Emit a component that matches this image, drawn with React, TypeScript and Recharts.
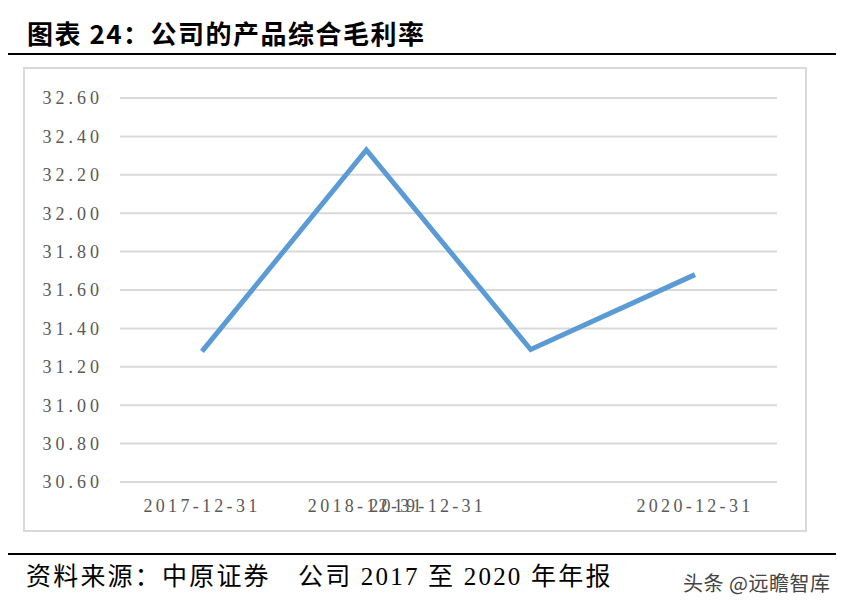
import React from "react";
import { CartesianGrid, Line, LineChart, XAxis, YAxis } from "recharts";

const periods = ["2017-12-31", "2018-12-31", "2019-12-31", "2020-12-31"];
const grossMargin = [31.28, 32.33, 31.29, 31.68];
const yTicks = [30.6, 30.8, 31.0, 31.2, 31.4, 31.6, 31.8, 32.0, 32.2, 32.4, 32.6];

const LINE_BLUE = "#5b9bd5";
const GRID = "#d9d9d9";
const TICK = "#595959";
const SERIF = "'Liberation Serif', 'Noto Sans CJK SC', serif";
const CJK = "'Noto Sans CJK SC', sans-serif";

// the source export draws the 2019 label pushed left, overlapping 2018
const LABEL_SHIFT: Record<string, number> = { "2019-12-31": -103 };

const data = periods.map((period, i) => ({ period, value: grossMargin[i] }));

function XTick({ x, y, payload }: { x?: number; y?: number; payload?: { value: string } }) {
  const label = payload?.value ?? "";
  return (
    <text
      x={(x ?? 0) + (LABEL_SHIFT[label] ?? 0)}
      y={y}
      dy="0.71em"
      textAnchor="middle"
      fill={TICK}
      fontSize={18}
      fontFamily={SERIF}
      letterSpacing={3.3}
    >
      {label}
    </text>
  );
}

export default function App() {
  return (
    <div
      style={{
        position: "absolute",
        left: 0,
        top: 0,
        width: 858,
        height: 616,
        background: "#fff",
      }}
    >
      <div
        style={{
          position: "absolute",
          left: 27,
          top: 16,
          fontFamily: CJK,
          fontWeight: 700,
          fontSize: 26,
          letterSpacing: 1.5,
          lineHeight: "34px",
          color: "#000",
          whiteSpace: "nowrap",
        }}
      >
        图表 24：公司的产品综合毛利率
      </div>
      <div
        style={{
          position: "absolute",
          left: 8,
          top: 53,
          width: 828,
          height: 2,
          background: "#000",
        }}
      />
      <div
        style={{
          position: "absolute",
          left: 23,
          top: 67,
          width: 780,
          height: 461,
          border: `2px solid ${GRID}`,
        }}
      />
      <div style={{ position: "absolute", left: 25, top: 69 }}>
        <LineChart
          width={778}
          height={459}
          data={data}
          margin={{ top: 29, right: 26, left: 0, bottom: 16 }}
        >
          <CartesianGrid stroke={GRID} strokeWidth={2} vertical={false} />
          <XAxis
            dataKey="period"
            axisLine={false}
            tickLine={false}
            tickMargin={11}
            interval={0}
            padding={{ left: 82, right: 82 }}
            tick={<XTick />}
          />
          <YAxis
            domain={[30.6, 32.6]}
            ticks={yTicks}
            width={95}
            axisLine={false}
            tickLine={false}
            tickMargin={11}
            tickFormatter={(v: number) => v.toFixed(2)}
            tick={{ fill: TICK, fontSize: 18, fontFamily: SERIF, letterSpacing: 4 }}
          />
          <Line
            type="linear"
            dataKey="value"
            stroke={LINE_BLUE}
            strokeWidth={5}
            dot={false}
            activeDot={false}
            isAnimationActive={false}
          />
        </LineChart>
      </div>
      <div
        style={{
          position: "absolute",
          left: 8,
          top: 553,
          width: 828,
          height: 2,
          background: "#000",
        }}
      />
      <div
        style={{
          position: "absolute",
          left: 26,
          top: 561,
          fontFamily: SERIF,
          fontSize: 25,
          letterSpacing: 2.2,
          lineHeight: "32px",
          color: "#000",
          whiteSpace: "pre",
        }}
      >
        资料来源：中原证券　公司 2017 至 2020 年年报
      </div>
      <div
        style={{
          position: "absolute",
          left: 683,
          top: 570,
          fontFamily: CJK,
          fontSize: 20,
          letterSpacing: 0.5,
          lineHeight: "26px",
          color: "#444",
          whiteSpace: "nowrap",
        }}
      >
        头条 @远瞻智库
      </div>
    </div>
  );
}
